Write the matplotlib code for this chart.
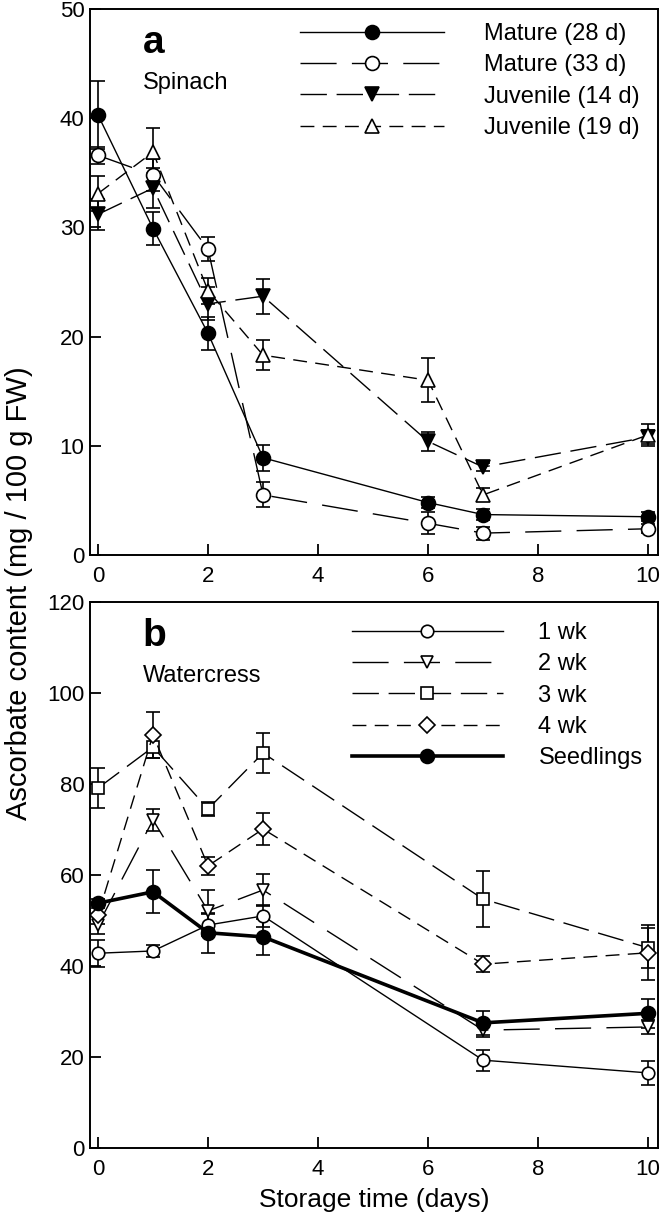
import matplotlib
matplotlib.use("Agg")
import matplotlib.pyplot as plt

plt.rcParams["font.family"] = ["Liberation Sans", "DejaVu Sans"]

# panel a - spinach
DAYS_A = [0, 1, 2, 3, 6, 7, 10]
MATURE_28 = [40.3, 29.9, 20.3, 8.9, 4.8, 3.7, 3.5]
MATURE_28_ERR = [3.1, 1.5, 1.5, 1.2, 0.5, 0.5, 0.4]
MATURE_33 = [36.6, 34.8, 28.0, 5.5, 2.9, 2.0, 2.4]
MATURE_33_ERR = [0.8, 1.5, 1.1, 1.15, 1.0, 0.6, 0.4]
JUV_14 = [31.2, 33.6, 23.0, 23.7, 10.4, 8.05, 10.8]
JUV_14_ERR = [1.4, 1.8, 1.5, 1.6, 0.9, 0.4, 0.6]
JUV_19 = [33.1, 36.9, 24.2, 18.3, 16.0, 5.5, 11.0]
JUV_19_ERR = [1.6, 2.2, 1.2, 1.35, 2.0, 0.6, 1.0]

# panel b - watercress
DAYS_B = [0, 1, 2, 3, 7, 10]
WK1 = [42.8, 43.3, 49.0, 51.0, 19.3, 16.5]
WK1_ERR = [3.0, 1.4, 2.5, 2.5, 2.3, 2.6]
WK2 = [49.0, 72.1, 52.1, 56.7, 25.9, 26.6]
WK2_ERR = [2.0, 2.5, 4.5, 3.5, 1.5, 1.5]
WK3 = [79.1, 88.1, 74.5, 86.8, 54.7, 44.0]
WK3_ERR = [4.4, 2.5, 1.5, 4.3, 6.2, 4.4]
WK4 = [51.2, 90.8, 62.0, 70.1, 40.4, 42.9]
WK4_ERR = [2.0, 5.0, 2.0, 3.5, 1.8, 6.0]
SEED = [53.8, 56.3, 47.3, 46.4, 27.5, 29.6]
SEED_ERR = [1.0, 4.7, 4.4, 4.0, 2.6, 3.2]

X_TICKS = [0, 2, 4, 6, 8, 10]
Y_TICKS_A = [0, 10, 20, 30, 40, 50]
Y_TICKS_B = [0, 20, 40, 60, 80, 100, 120]

SOLID = (None, None)
LONG = (0, (26, 11))
MEDIUM = (0, (19, 7))
SHORT = (0, (10, 6))


def draw_series(ax, x, y, err, label, marker, filled, dashes, lw=1.0, ms=10):
    ax.errorbar(x, y, yerr=err, fmt="none", ecolor="black", elinewidth=1.2,
                capsize=5, capthick=1.2, zorder=2)
    line, = ax.plot(x, y, color="black", lw=lw, marker=marker, ms=ms,
                    mfc="black" if filled else "white", mec="black", mew=1.2,
                    label=label, zorder=3)
    if dashes[0] is not None:
        line.set_linestyle(dashes)
    return line


def style_axes(ax, yticks, ylim):
    ax.set_xlim(-0.145, 10.18)
    ax.set_ylim(*ylim)
    ax.set_xticks(X_TICKS)
    ax.set_yticks(yticks)
    ax.tick_params(direction="in", length=8, width=1.3, labelsize=16,
                   top=False, right=False)
    ax.tick_params(axis="x", pad=8)
    ax.tick_params(axis="y", pad=4)
    for s in ax.spines.values():
        s.set_linewidth(1.4)


fig = plt.figure(figsize=(6.61, 12.24), dpi=100)
ax_a = fig.add_axes([0.1362, 0.5466, 0.8593, 0.446])
ax_b = fig.add_axes([0.1362, 0.0621, 0.8593, 0.4461])

draw_series(ax_a, DAYS_A, MATURE_28, MATURE_28_ERR, "Mature (28 d)", "o", True, SOLID)
draw_series(ax_a, DAYS_A, MATURE_33, MATURE_33_ERR, "Mature (33 d)", "o", False, LONG)
draw_series(ax_a, DAYS_A, JUV_14, JUV_14_ERR, "Juvenile (14 d)", "v", True, MEDIUM)
draw_series(ax_a, DAYS_A, JUV_19, JUV_19_ERR, "Juvenile (19 d)", "^", False, SHORT)
style_axes(ax_a, Y_TICKS_A, (0, 50))
ax_a.legend(loc="upper left", bbox_to_anchor=(0.37, 0.974), frameon=False,
            fontsize=17, handlelength=6.1, handletextpad=1.7, labelspacing=0.39,
            borderpad=0, borderaxespad=0, numpoints=1)
ax_a.text(0.093, 0.919, "a", transform=ax_a.transAxes, fontsize=28,
          fontweight="bold", va="baseline")
ax_a.text(0.093, 0.853, "Spinach", transform=ax_a.transAxes, fontsize=17,
          va="baseline")

draw_series(ax_b, DAYS_B, WK1, WK1_ERR, "1 wk", "o", False, SOLID, ms=9)
draw_series(ax_b, DAYS_B, WK2, WK2_ERR, "2 wk", "v", False, LONG, ms=9)
draw_series(ax_b, DAYS_B, WK3, WK3_ERR, "3 wk", "s", False, MEDIUM, ms=8)
draw_series(ax_b, DAYS_B, WK4, WK4_ERR, "4 wk", "D", False, SHORT, ms=8)
draw_series(ax_b, DAYS_B, SEED, SEED_ERR, "Seedlings", "o", True, SOLID, lw=2.6, ms=10)
style_axes(ax_b, Y_TICKS_B, (0, 120))
ax_b.legend(loc="upper left", bbox_to_anchor=(0.461, 0.963), frameon=False,
            fontsize=17, handlelength=6.4, handletextpad=1.5, labelspacing=0.39,
            borderpad=0, borderaxespad=0, numpoints=1)
ax_b.text(0.093, 0.919, "b", transform=ax_b.transAxes, fontsize=28,
          fontweight="bold", va="baseline")
ax_b.text(0.093, 0.853, "Watercress", transform=ax_b.transAxes, fontsize=17,
          va="baseline")
ax_b.set_xlabel("Storage time (days)", fontsize=19, labelpad=6)

fig.text(0.028, 0.515, "Ascorbate content (mg / 100 g FW)", rotation=90,
         fontsize=21, ha="center", va="center")

fig.savefig("out.png", dpi=100)
